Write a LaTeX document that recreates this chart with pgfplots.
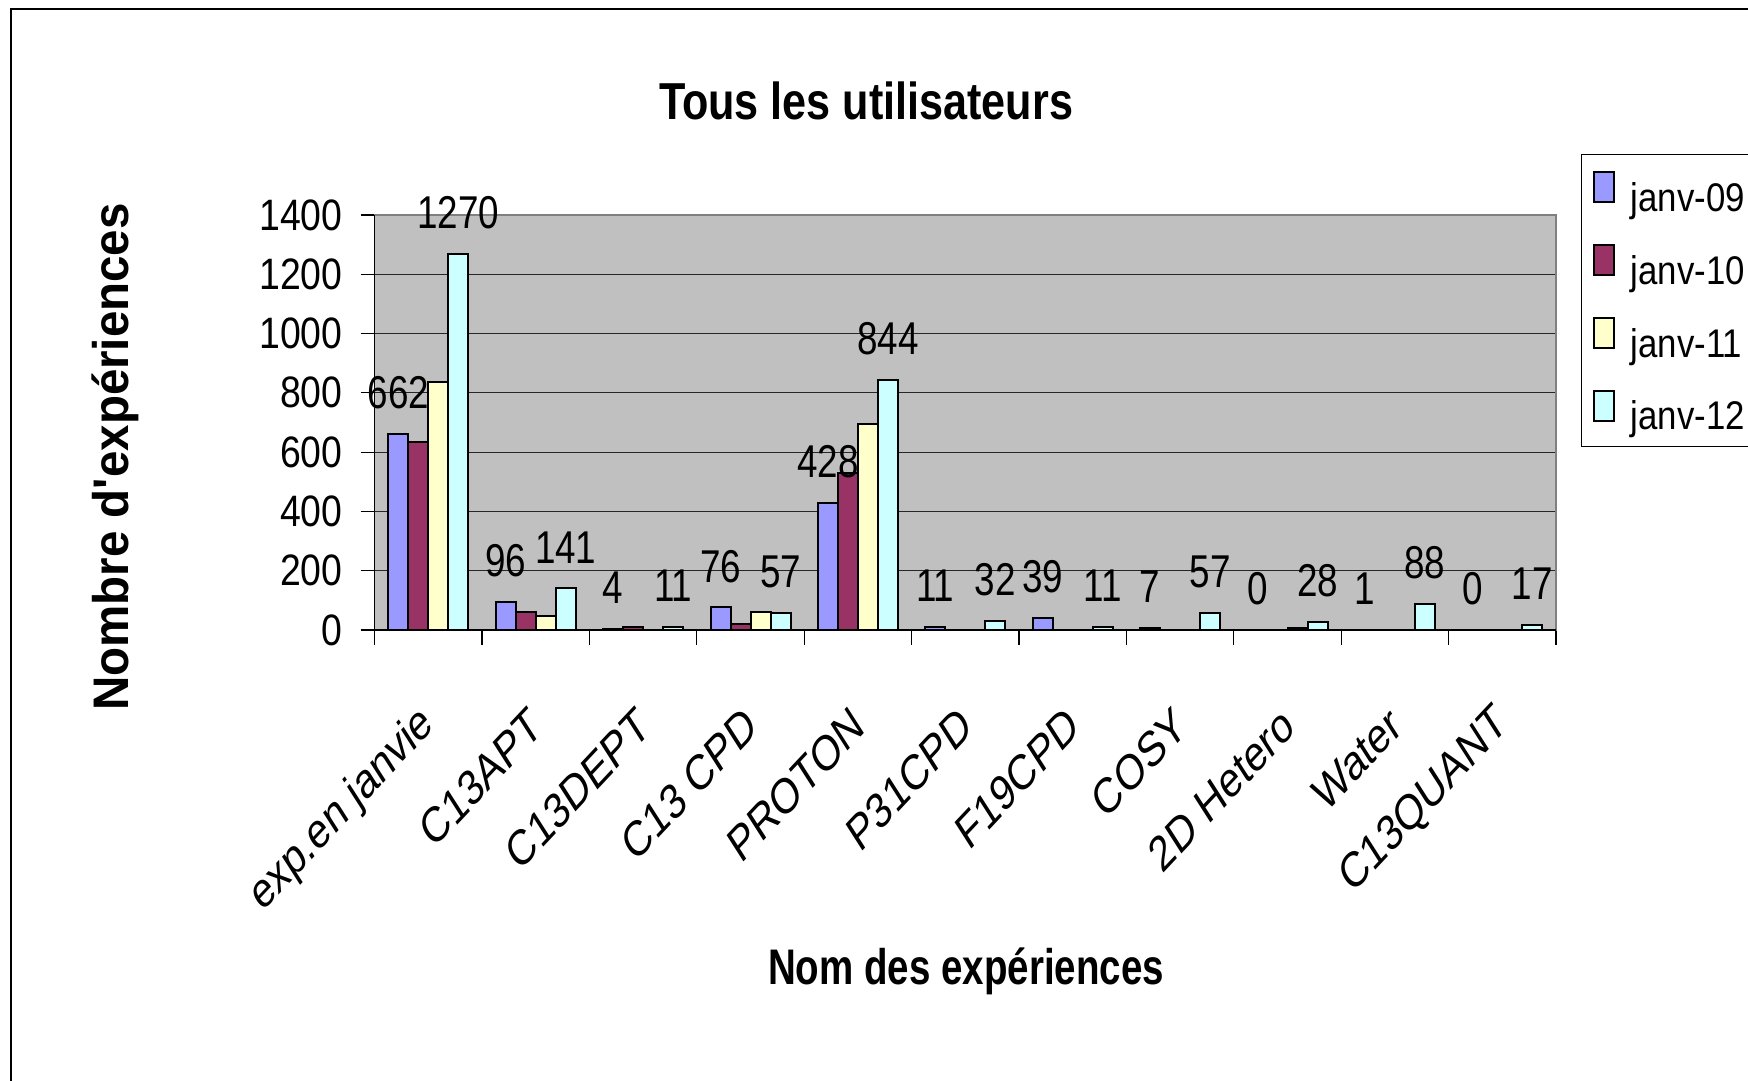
\documentclass[border=0pt]{standalone}
\usepackage{fontspec}
\setmainfont{Liberation Sans}
\newfontfamily\titlefam[FakeStretch=0.83]{Liberation Sans}
\newfontfamily\xlabfam[FakeStretch=0.77]{Liberation Sans}
\newfontfamily\tickfam[FakeStretch=0.85]{Liberation Sans}
\newfontfamily\labfam[FakeStretch=0.8]{Liberation Sans}
\newfontfamily\legfam[FakeStretch=0.87]{Liberation Sans}
\newfontfamily\ylabfam[FakeStretch=0.95]{Liberation Sans}
\usepackage{pgfplots}
\pgfplotsset{compat=1.18}
\definecolor{c09}{HTML}{9999FF}
\definecolor{c10}{HTML}{993366}
\definecolor{c11}{HTML}{FFFFCC}
\definecolor{c12}{HTML}{CCFFFF}
\definecolor{plotbg}{HTML}{C0C0C0}
\begin{document}
\begin{tikzpicture}
\useasboundingbox (0,0) rectangle (874pt,540pt);
\draw[line width=0.8pt] (5.5pt,-20pt) rectangle (900pt,535.5pt);
\begin{axis}[
  at={(187.3pt,225pt)}, anchor=south west,
  scale only axis, width=590.7pt, height=207.5pt,
  xmin=-0.5, xmax=10.5, ymin=0, ymax=1400,
  ybar=0pt, bar width=10pt,
  axis background/.style={fill=plotbg},
  axis line style={draw=gray, line width=0.8pt},
  ytick={0,200,...,1400},
  xtick={0,...,10},
  xticklabels={exp.en janvie, C13APT, C13DEPT, C13 CPD, PROTON, P31CPD, F19CPD, COSY, 2D Hetero, Water, C13QUANT},
  minor xtick={-0.5,0.5,...,10.5},
  major x tick style={draw=none},
  tick align=outside, tick pos=left,
  major tick length=7pt, minor tick length=7.5pt,
  tick style={black, line width=0.6pt},
  ymajorgrids, grid style={black!85, line width=0.6pt},
  /pgf/number format/assume math mode=true,
  /pgf/number format/1000 sep={},
  yticklabel style={font=\tickfam\fontsize{22}{26}\selectfont, xshift=-5.5pt},
  xticklabel style={font=\fontsize{24.5}{29}\selectfont, inner sep=0pt, xshift=0.5pt, yshift=-36.85pt, cm={0.6,0.64,-0.5,0.781,(0,0)}, anchor=east},
  title={\bfseries Tous les utilisateurs},
  title style={at={(rel axis cs:0.416,1.245)}, anchor=center, font=\titlefam\fontsize{26}{30}\selectfont},
  xlabel={\bfseries Nom des expériences},
  xlabel style={at={(rel axis cs:0.5006,-0.855)}, anchor=base, font=\xlabfam\fontsize{25}{30}\selectfont},
  ylabel={\bfseries Nombre d'expériences},
  ylabel style={at={(rel axis cs:-0.2079,0.417)}, anchor=base, rotate=0, font=\ylabfam\fontsize{25}{30}\selectfont},
  nodes near coords,
  every node near coord/.append style={font=\labfam\fontsize{23}{27}\selectfont, inner sep=0pt, anchor=south, yshift=12pt, black},
  legend style={at={(rel axis cs:1.0212,1.147)}, anchor=north west, draw=black, line width=0.6pt, fill=white,
     font=\legfam\fontsize{20}{24}\selectfont, inner xsep=5.5pt, inner ysep=3.4pt, row sep=6.3pt,
     nodes={inner sep=1pt, text height=24.1pt, text depth=4pt}},
  legend cell align=left,
  legend image code/.code={\draw[#1, line width=1pt, draw=black] (0pt,-5.5pt) rectangle (10pt,9.5pt); \path (17pt,0pt);},
  after end axis/.code={\draw[black, line width=0.8pt] (rel axis cs:0,1) -- (rel axis cs:0,0) -- (rel axis cs:1,0);},
]
\addplot[fill=c09, draw=black, line width=1pt] coordinates {(0,662) (1,96) (2,4) (3,76) (4,428) (5,11) (6,39) (7,7) (8,0) (9,1) (10,0)};
\addplot[fill=c10, draw=black, line width=1pt, nodes near coords={}] coordinates {(0,633) (1,60) (2,10) (3,20) (4,529) (5,0) (6,0) (7,0) (8,0) (9,0) (10,0)};
\addplot[fill=c11, draw=black, line width=1pt, nodes near coords={}] coordinates {(0,836) (1,48) (2,0) (3,60) (4,694) (5,0) (6,0) (7,0) (8,8) (9,0) (10,0)};
\addplot[fill=c12, draw=black, line width=1pt] coordinates {(0,1270) (1,141) (2,11) (3,57) (4,844) (5,32) (6,11) (7,57) (8,28) (9,88) (10,17)};
\legend{janv-09, janv-10, janv-11, janv-12}
\end{axis}
\end{tikzpicture}
\end{document}
